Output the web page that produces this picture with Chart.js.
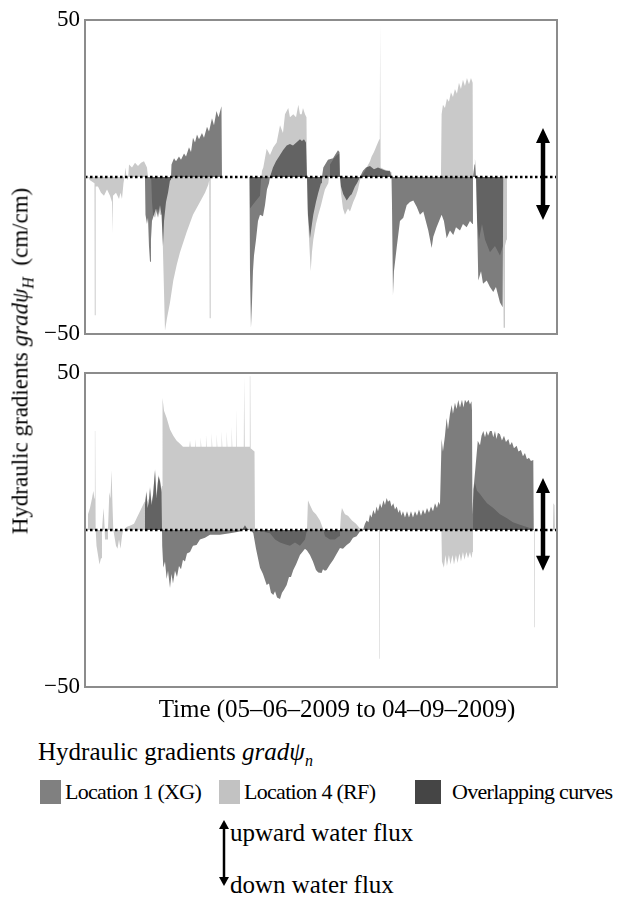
<!DOCTYPE html>
<html>
<head>
<meta charset="utf-8">
<script src="https://cdn.jsdelivr.net/npm/chart.js@4.4.1/dist/chart.umd.min.js"></script>
<style>
  body { margin: 0; background: #fff; }
  #page { position: relative; width: 617px; height: 898px; font-family: "Liberation Serif", "DejaVu Serif", serif; color: #000; }
  canvas { position: absolute; left: 0; }
  .txt { position: absolute; white-space: nowrap; font-size: 25px; line-height: 1; }
  .ytitle { left: 20px; top: 361px; font-size: 23px; transform: translate(-50%, -50%) rotate(-90deg); }
  .xtitle { left: 337px; top: 708px; transform: translate(-50%, -50%); }
  sub { font-size: 16px; vertical-align: -6px; line-height: 0; }
  .sw { position: absolute; width: 21px; height: 24px; }
  .leg { font-size: 22px; letter-spacing: -0.7px; }
</style>
</head>
<body>
<div id="page">
  <canvas id="gradTop" width="617" height="360" style="top:0"></canvas>
  <canvas id="gradBottom" width="617" height="360" style="top:350px"></canvas>

  <div class="txt ytitle">Hydraulic gradients <i>gradψ</i><sub><i>H</i></sub>&nbsp;&nbsp;(cm/cm)</div>
  <div class="txt xtitle">Time (05–06–2009 to 04–09–2009)</div>

  <div class="txt" style="left:38px; top:739px;">Hydraulic gradients <i>gradψ</i><sub><i>n</i></sub></div>
  <div class="sw" style="left:40px; top:780px; background:#808080"></div>
  <div class="txt leg" style="left:65px; top:781px;">Location 1 (XG)</div>
  <div class="sw" style="left:219px; top:780px; background:#c2c2c2"></div>
  <div class="txt leg" style="left:244px; top:781px;">Location 4 (RF)</div>
  <div class="sw" style="left:415px; top:780px; width:26px; background:#454545"></div>
  <div class="txt leg" style="left:452px; top:781px;">Overlapping curves</div>

  <svg style="position:absolute; left:216px; top:820px" width="16" height="66">
    <line x1="8" y1="8" x2="8" y2="58" stroke="#000" stroke-width="2.5"/>
    <polygon points="8,0 3,9 13,9" fill="#000"/>
    <polygon points="8,66 3,57 13,57" fill="#000"/>
  </svg>
  <div class="txt" style="left:230px; top:820px;">upward water flux</div>
  <div class="txt" style="left:230px; top:872px;">down water flux</div>
</div>

<script>
// Valeurs journalières [jour depuis le 05-06-2009, gradient cm/cm]
const topXG = [
  [0, 0], [11.69, 0], [11.79, -12], [12.08, -15], [12.28, -13], [12.47, -22], [12.67, -27], [12.86, -20],
  [13.06, -14], [13.45, -12], [13.84, -10], [14.23, -13], [14.62, -9], [14.91, -12], [15.20, -22], [15.40, -14],
  [15.79, -8], [16.18, -5], [16.57, -1], [16.76, 0],
  [16.86, 4], [17.35, 6], [17.74, 5], [18.32, 6.5], [18.71, 5.5], [19.30, 7.5], [19.69, 6.5], [20.27, 9.5],
  [20.66, 8], [21.05, 12.5], [21.44, 11], [21.83, 13.5], [22.22, 12], [22.80, 14], [23.19, 12.5], [23.78, 16],
  [24.17, 14.5], [24.75, 18.7], [25.14, 16.5], [25.63, 21], [26.02, 19], [26.60, 22.5], [26.70, 0],
  [32.06, 0], [32.16, -30], [32.35, -48], [32.55, -40], [32.74, -30], [32.94, -25], [33.33, -20], [33.72, -14],
  [34.11, -12], [34.69, -12.5], [35.08, -9], [35.47, -4], [35.86, -2], [36.06, 0],
  [36.64, 3], [37.23, 5], [38.01, 7], [38.59, 8.5], [39.31, 10], [39.95, 10.5], [40.54, 10], [41.20, 11],
  [41.90, 12], [42.29, 11.5], [42.68, 12], [43.07, 11], [43.27, 0],
  [43.46, -12], [43.85, -19.5], [44.24, -15], [44.50, -12], [45.02, -8], [45.47, -5], [46.00, -2], [46.19, 0],
  [46.45, 3], [47.36, 5.5], [48.34, 6], [48.73, 7], [49.31, 8.5], [49.60, 8], [49.70, 0],
  [49.89, -3], [50.34, -5.5], [51.01, -7.5], [51.65, -6], [51.98, -5.5], [52.62, -3], [53.01, -2], [53.60, 0],
  [54.18, 2], [54.77, 3], [55.55, 3.5], [56.33, 2.5], [57.11, 3], [57.89, 2.5], [58.67, 2], [59.44, 2], [59.74, 0],
  [59.83, -8], [60.03, -37.6], [60.22, -30], [60.75, -22.5], [61.39, -14], [62.04, -13], [62.70, -9], [63.34, -8],
  [63.99, -7.5], [64.65, -9.5], [65.29, -12], [65.94, -11], [66.91, -17], [67.57, -22.6], [67.89, -19], [68.53, -16],
  [69.51, -12], [69.96, -14], [70.49, -19.5], [71.14, -17], [71.78, -18.5], [72.31, -16], [73.09, -17], [73.67, -15],
  [74.39, -16], [75.04, -14], [75.52, -15], [75.62, 0],
  [75.91, 4], [76.01, 6], [76.21, 0], [76.40, -12], [76.66, -33], [77.19, -30], [77.58, -34], [78.30, -33],
  [78.93, -35], [79.58, -36.6], [80.10, -35], [80.88, -40], [81.41, -41.5], [81.52, 0], [92, 0]
];

const topRF = [
  [0, 0], [0.58, 0], [0.97, -1], [1.85, -2], [1.90, -44], [1.99, -44], [2.08, -3], [2.53, -3], [3.12, -5],
  [3.70, -6], [4.29, -4], [4.87, -6], [5.26, -8], [5.33, -18], [5.40, -18], [5.46, -6], [6.04, -5], [6.63, -7],
  [6.92, -5], [7.21, -7], [7.50, -2], [7.70, 0], [7.89, 3], [8.09, 0], [8.38, -1], [8.58, 4], [9.16, 3],
  [9.75, 4.5], [10.33, 3.5], [10.92, 4.5], [11.50, 5], [12.08, 3], [12.28, 0], [12.90, 0], [13.06, -8],
  [13.26, -12], [13.65, -13], [14.23, -10], [14.62, -12], [15.01, -12], [15.30, -30], [15.59, -49], [15.98, -45],
  [16.57, -40], [17.21, -33], [17.87, -28], [18.52, -24], [19.82, -17.5], [21.05, -12], [22.41, -8], [23.39, -5],
  [24.03, -2.5], [24.22, -1], [24.30, -45], [24.40, -45], [24.50, 0],
  [32.06, 0], [32.16, -10], [33.13, -8], [34.11, -6], [34.30, -1], [34.50, 2], [34.75, 3], [35.41, 9], [36.06, 7],
  [36.70, 9.5], [37.36, 11], [38.01, 16.5], [38.59, 14], [38.98, 20], [39.62, 22], [39.95, 19], [40.60, 20],
  [41.13, 19], [41.58, 23], [41.90, 20], [42.23, 20], [42.49, 22], [42.88, 20], [43.17, 19], [43.27, 0],
  [43.36, -10], [43.99, -30], [44.24, -24], [44.50, -20], [45.02, -15], [45.47, -12], [46.00, -9], [46.45, -6],
  [46.77, -4], [47.42, -2], [47.56, 0],
  [47.75, 4], [48.53, 6], [49.12, 7], [49.60, 7.5], [49.70, 0],
  [49.89, -5], [50.28, -10], [50.67, -12], [51.26, -10], [51.65, -11], [52.29, -8], [52.82, -6], [53.21, -4],
  [53.60, -1], [53.80, 0],
  [54.57, 2], [54.90, 3], [55.55, 5], [55.87, 6.5], [56.33, 8], [56.85, 10], [57.37, 12], [57.46, 13],
  [57.52, 49], [57.60, 49], [57.66, 3], [58.28, 2.5], [59.05, 2], [59.74, 1.5], [59.83, 0],
  [69.38, 0], [69.51, 20], [69.77, 23], [70.16, 22], [70.55, 25], [70.94, 24], [71.33, 27], [71.72, 25.5],
  [72.11, 28], [72.50, 26.5], [72.89, 30], [73.28, 28], [73.67, 31], [74.06, 29], [74.45, 31.5], [74.84, 29.5],
  [75.23, 31.5], [75.56, 30], [75.62, 0],
  [76.21, 0], [76.40, -14], [76.79, -20], [77.38, -15], [77.97, -20], [78.93, -24], [79.91, -22], [80.88, -25],
  [81.47, -22], [81.60, -48], [81.70, -48], [81.86, -22], [82.15, -20], [82.25, 0], [92, 0]
];

const bottomXG = [
  [0, 0], [11.60, 0], [11.69, 8], [11.99, 12], [12.18, 7], [12.47, 9], [12.67, 13.4], [12.96, 8], [13.26, 11],
  [13.65, 19], [13.94, 10], [14.13, 14], [14.33, 17], [14.62, 15.5], [14.91, 12], [15.01, 0],
  [15.05, -5], [15.26, -12], [15.59, -10], [15.92, -15.6], [16.18, -13], [16.57, -18.5], [16.86, -14], [17.15, -17],
  [17.54, -13], [17.93, -15], [18.32, -11.5], [18.71, -12.5], [19.10, -9.5], [19.49, -10], [19.88, -7.5], [20.47, -7],
  [21.05, -5], [21.74, -4.8], [22.41, -3], [23.39, -2.5], [24.36, -1.5], [26.31, -1.5], [28.26, -1], [30.21, -0.5],
  [30.79, 0.5], [31.18, 1.5], [31.57, 0.5], [32.55, -0.5],
  [32.80, -1], [33.33, -6], [34.11, -12], [34.69, -14], [35.41, -17.5], [35.86, -17], [36.25, -20], [36.70, -20.7],
  [37.04, -19.5], [37.43, -21.5], [38.01, -22], [38.40, -20], [38.79, -19], [39.31, -17.5], [39.76, -15], [40.15, -15],
  [40.60, -12.7], [41.13, -11], [41.90, -8], [42.88, -6], [43.27, -6.5], [43.85, -8], [44.43, -10], [45.02, -12.7],
  [45.47, -13.5], [46.12, -13.7], [46.38, -12.5], [46.77, -13], [47.09, -12.7], [47.75, -11], [48.40, -9.5],
  [48.92, -8], [49.70, -5.7], [50.28, -6], [51.01, -4.8], [51.65, -4], [52.24, -2.5], [52.94, -2], [53.60, -0.5],
  [54.18, 0],
  [54.57, 2], [54.90, 3], [55.25, 2.5], [55.55, 5], [55.84, 4], [56.20, 6.4], [56.53, 5], [56.82, 7.5], [57.11, 6],
  [57.50, 8.5], [57.79, 7], [58.18, 9.5], [58.47, 8], [58.80, 10.2], [59.05, 9], [59.44, 9.5], [59.74, 7.5],
  [60.09, 8.5], [60.42, 6.5], [60.75, 7.5], [61.10, 5.5], [61.39, 6.5], [61.68, 4.5], [61.98, 6], [62.37, 4],
  [62.76, 6], [63.15, 4], [63.54, 6], [63.93, 4], [64.32, 6], [64.71, 4.5], [65.10, 6.5], [65.49, 4.5], [65.88, 6.5],
  [66.27, 5], [66.66, 7], [67.05, 5.5], [67.44, 7.5], [67.83, 6], [68.22, 8.5], [68.61, 7], [68.91, 9], [69.19, 8],
  [69.51, 29], [69.77, 25], [70.16, 30], [70.49, 35.7], [70.75, 32], [71.14, 37], [71.47, 39.8], [71.72, 37],
  [72.11, 40.5], [72.41, 38.5], [72.76, 41.4], [73.09, 39], [73.48, 41.5], [73.77, 39], [74.06, 41.5], [74.39, 40.5],
  [74.75, 41.5], [75.04, 40], [75.33, 41], [75.43, 38], [75.52, 5],
  [75.72, 13], [76.11, 20], [76.56, 28.4], [76.99, 27], [77.29, 30], [77.64, 31.5], [77.97, 29.5], [78.27, 31.5],
  [78.56, 30], [78.93, 31.5], [79.28, 31.5], [79.58, 29.5], [79.91, 31.5], [80.21, 29], [80.49, 31], [80.88, 30.5],
  [81.27, 28.5], [81.67, 30], [82.05, 28], [82.51, 29], [82.83, 27], [83.22, 28], [83.61, 26], [84.13, 26.8],
  [84.49, 25], [84.97, 25.5], [85.36, 23.5], [85.75, 24.5], [86.14, 22.5], [86.53, 23], [86.92, 22], [87.38, 22.3],
  [87.47, 0], [92, 0]
];

const bottomRF = [
  [0, 0], [0.39, 0], [0.58, 5], [0.97, 7], [1.36, 10], [1.62, 12.4], [1.85, 10], [1.93, 31.5], [1.99, 31.5],
  [2.08, 0], [2.24, -5], [2.53, -8], [2.82, -11], [3.12, -9], [3.31, 0], [3.61, 7], [3.76, 3], [3.90, -3],
  [4.29, -3], [4.48, 0], [4.74, 12], [4.97, 10], [5.17, 19], [5.23, 19], [5.36, 8], [5.52, 0], [6.04, -5],
  [6.33, -6], [6.63, -3], [6.92, -6], [7.21, -2], [7.41, 0], [8.19, 1], [8.97, 1.5], [9.55, 2], [10.13, 4],
  [10.72, 6], [11.30, 8], [11.60, 9],
  [11.69, 9.5], [11.99, 12.5], [12.18, 9], [12.47, 10], [12.67, 14], [12.96, 9], [13.26, 11.5], [13.65, 19.5],
  [13.94, 11], [14.13, 14.5], [14.33, 17.5], [14.62, 16], [14.91, 13],
  [15.01, 14], [15.11, 42], [15.40, 38], [15.92, 35.7], [16.57, 32], [17.21, 30], [17.87, 28.4], [18.52, 27.5],
  [19.10, 26.5],
  [20.35, 26.5], [20.47, 28.5], [20.59, 26.5], [21.32, 26.5], [21.44, 29], [21.56, 26.5],
  [22.43, 26.5], [22.55, 29.5], [22.67, 26.5], [23.46, 26.5], [23.58, 30.5], [23.70, 26.5],
  [24.57, 26.5], [24.69, 31], [24.81, 26.5], [25.55, 26.5], [25.67, 30.5], [25.79, 26.5],
  [26.52, 26.5], [26.64, 31.5], [26.76, 26.5], [27.50, 26.5], [27.62, 31.5], [27.74, 26.5],
  [28.47, 26.5], [28.59, 33], [28.71, 26.5], [29.31, 26.5], [29.43, 39], [29.55, 26.5],
  [30.95, 26.5], [31.02, 49], [31.10, 49], [31.17, 26.5], [32.06, 26.5], [32.13, 49], [32.21, 49], [32.28, 26],
  [33.04, 25], [33.13, 0],
  [36.06, -1], [37.04, -3], [38.01, -4], [38.98, -4.5], [39.95, -5], [40.93, -4], [41.90, -5], [42.88, -3],
  [43.27, 0], [43.46, 9.5], [43.85, 8], [44.43, 6], [45.02, 5], [45.80, 3], [46.38, 0.5], [46.77, -2],
  [47.75, -3], [48.73, -3], [49.51, -2], [49.70, 0], [49.89, 5], [50.08, 7], [50.67, 5], [51.26, 4.5],
  [52.04, 3], [52.82, 2], [53.60, 0.5], [53.99, 0],
  [57.30, 0], [57.36, -41], [57.42, -41], [57.48, 0],
  [69.47, 0], [69.57, -10], [69.96, -12], [70.25, -8], [70.55, -11.5], [70.94, -8], [71.23, -11], [71.62, -8],
  [71.92, -11], [72.31, -8], [72.60, -10.5], [72.99, -7.5], [73.28, -10], [73.67, -7], [73.96, -9.5], [74.35, -7],
  [74.65, -9], [75.04, -7], [75.33, -9], [75.52, -7], [75.62, 0],
  [75.71, 13], [76.01, 15], [76.40, 12.5], [76.99, 11.5], [77.64, 10], [78.36, 8.5], [79.58, 7], [80.88, 5],
  [82.18, 3.8], [83.41, 2.5], [84.78, 1.7], [86.73, 0.6], [87.41, 0.3], [87.51, 0], [87.54, -31], [87.62, -31],
  [87.67, 0], [91.21, 0], [91.30, 8.5], [91.50, 8], [91.60, 0], [92, 0]
];

const yTicks = [-50, 50];
const dayRange = [0, 92];
const colorXG = '#7d7d7d';
const colorRF = '#c9c9c9';

Chart.defaults.font.family = '"Liberation Serif", "DejaVu Serif", serif';

// flèche double (flux ascendant / descendant)
function drawDoubleArrow(ctx, x, yTop, yBot) {
  const hw = 7, hh = 15;
  ctx.fillStyle = '#000';
  ctx.strokeStyle = '#000';
  ctx.lineWidth = 4.5;
  ctx.beginPath();
  ctx.moveTo(x, yTop + hh - 2);
  ctx.lineTo(x, yBot - hh + 2);
  ctx.stroke();
  ctx.beginPath();
  ctx.moveTo(x, yTop);
  ctx.lineTo(x - hw, yTop + hh);
  ctx.lineTo(x + hw, yTop + hh);
  ctx.closePath();
  ctx.fill();
  ctx.beginPath();
  ctx.moveTo(x, yBot);
  ctx.lineTo(x - hw, yBot - hh);
  ctx.lineTo(x + hw, yBot - hh);
  ctx.closePath();
  ctx.fill();
}

// superposition en mode multiply -> zones communes plus foncées
const panelDecor = {
  id: 'panelDecor',
  beforeDatasetsDraw(chart) {
    chart.ctx.save();
    chart.ctx.globalCompositeOperation = 'multiply';
  },
  afterDatasetsDraw(chart, args, opts) {
    const ctx = chart.ctx;
    ctx.restore();
    const { left, right, top, bottom } = chart.chartArea;
    const y = chart.scales.y;
    const y0 = y.getPixelForValue(0);

    ctx.save();
    // ligne zéro pointillée
    ctx.strokeStyle = '#000';
    ctx.lineWidth = 2.5;
    ctx.setLineDash([2.5, 2.5]);
    ctx.beginPath();
    ctx.moveTo(left, y0);
    ctx.lineTo(right, y0);
    ctx.stroke();
    ctx.setLineDash([]);

    drawDoubleArrow(ctx, right - 14, y.getPixelForValue(opts.arrowUp), y.getPixelForValue(opts.arrowDown));

    // cadre
    ctx.strokeStyle = '#8c8c8c';
    ctx.lineWidth = 2;
    ctx.strokeRect(left, top, right - left, bottom - top);
    ctx.restore();
  }
};

function makePanel(canvasId, xgData, rfData, pad, arrow) {
  const ctx = document.getElementById(canvasId).getContext('2d');
  return new Chart(ctx, {
    type: 'line',
    data: {
      datasets: [
        {
          label: 'Location 1 (XG)',
          data: xgData.map(p => ({ x: p[0], y: p[1] })),
          backgroundColor: colorXG,
          borderWidth: 0,
          pointRadius: 0,
          fill: 'origin'
        },
        {
          label: 'Location 4 (RF)',
          data: rfData.map(p => ({ x: p[0], y: p[1] })),
          backgroundColor: colorRF,
          borderWidth: 0,
          pointRadius: 0,
          fill: 'origin'
        }
      ]
    },
    options: {
      responsive: false,
      animation: false,
      layout: { padding: pad },
      plugins: {
        legend: { display: false },
        tooltip: { enabled: false },
        panelDecor: arrow
      },
      scales: {
        x: {
          type: 'linear',
          min: dayRange[0],
          max: dayRange[1],
          display: false
        },
        y: {
          min: -50,
          max: 50,
          afterBuildTicks: s => { s.ticks = yTicks.map(v => ({ value: v })); },
          afterFit: s => { s.width = 85; },
          grid: { display: false, drawTicks: false },
          border: { display: false },
          ticks: {
            color: '#000',
            padding: 5,
            font: { size: 23 },
            callback: v => (v < 0 ? '−' + Math.abs(v) : String(v))
          }
        }
      }
    },
    plugins: [panelDecor]
  });
}

makePanel('gradTop', topXG, topRF, { top: 20, right: 60, bottom: 26, left: 0 }, { arrowUp: 15.6, arrowDown: -13.7 });
makePanel('gradBottom', bottomXG, bottomRF, { top: 23, right: 60, bottom: 23, left: 0 }, { arrowUp: 16.6, arrowDown: -13 });
</script>
</body>
</html>
